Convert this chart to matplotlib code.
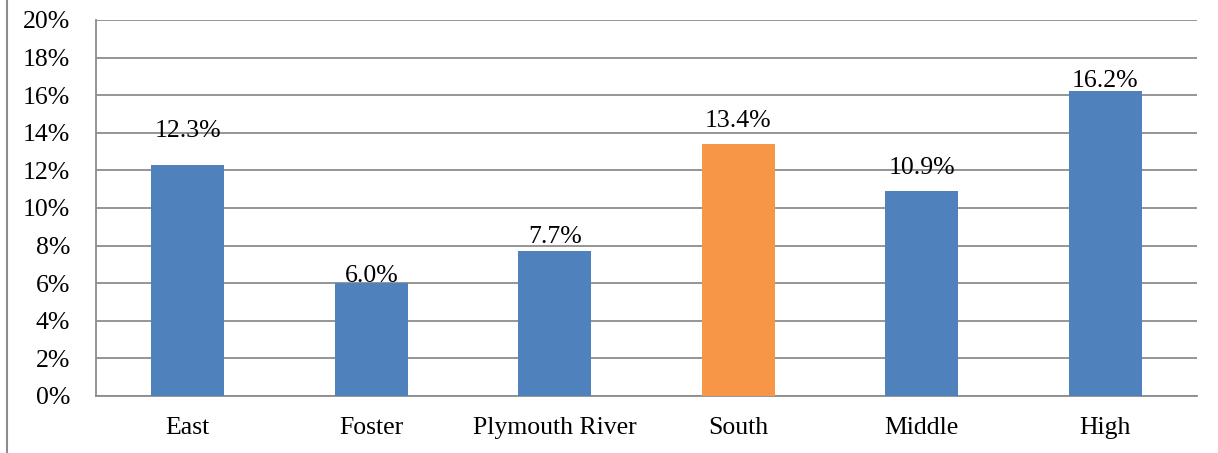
import matplotlib.pyplot as plt
from matplotlib.ticker import PercentFormatter
from matplotlib.lines import Line2D

# data
schools = ['East', 'Foster', 'Plymouth River', 'South', 'Middle', 'High']
rates = [12.3, 6.0, 7.7, 13.4, 10.9, 16.2]
label_offsets = [20, 0.7, 5.8, 12, 12, 3]  # baseline gap above bar top (points), as in the original
colors = ['#4F81BD', '#4F81BD', '#4F81BD', '#F79646', '#4F81BD', '#4F81BD']

plt.rcParams['font.family'] = ['Liberation Serif', 'DejaVu Serif']
plt.rcParams['font.size'] = 18.5

fig = plt.figure(figsize=(12.18, 4.53), dpi=100)
ax = fig.add_axes([96 / 1218, 57 / 453, 1101 / 1218, 376 / 453])

x = range(len(schools))
ax.bar(x, rates, width=0.4, color=colors, zorder=3)
for i, (v, off) in enumerate(zip(rates, label_offsets)):
    ax.annotate(f'{v:.1f}%', (i, v), xytext=(0, off), textcoords='offset points',
                ha='center', va='baseline', zorder=5)

ax.set_xlim(-0.5, len(schools) - 0.5)
ax.set_ylim(0, 20)
ax.set_yticks(range(0, 21, 2))
ax.yaxis.set_major_formatter(PercentFormatter(decimals=0))
ax.set_xticks(list(x))
ax.set_xticklabels(schools)
ax.tick_params(axis='y', length=0, pad=18.5)
ax.tick_params(axis='x', length=0, pad=15)
ax.grid(axis='y', color='#8c8c8c', linewidth=1.3, zorder=0)
for s in ['top', 'right']:
    ax.spines[s].set_visible(False)
for s in ['left', 'bottom']:
    ax.spines[s].set_color('#8c8c8c')
    ax.spines[s].set_linewidth(1.3)

# frame line at the left edge of the figure
fig.add_artist(Line2D([7 / 1218, 7 / 1218], [0, 1], color='#8c8c8c', linewidth=1.5))

fig.savefig('out.png', dpi=100)
